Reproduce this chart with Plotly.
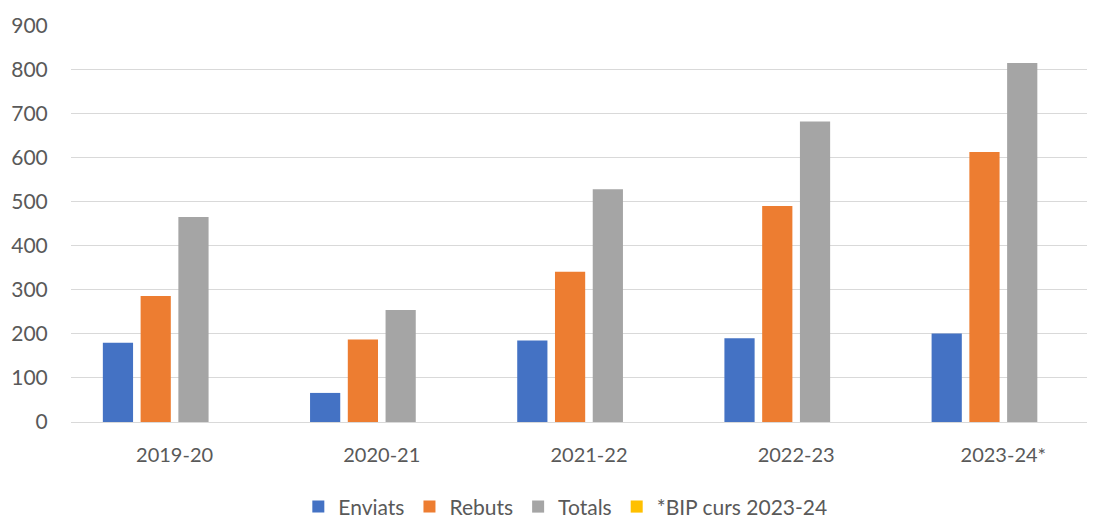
import plotly.graph_objects as go

categories = ["2019-20", "2020-21", "2021-22", "2022-23", "2023-24*"]
enviats = [180, 66, 185, 190, 201]
rebuts = [286, 187, 341, 490, 613]
totals = [465, 254, 528, 682, 815]
bip = [0, 0, 0, 0, 0]

series = [
    ("Enviats", enviats, "#4472C4"),
    ("Rebuts", rebuts, "#ED7D31"),
    ("Totals", totals, "#A5A5A5"),
    ("*BIP curs 2023-24", bip, "#FFC000"),
]

fig = go.Figure()
for name, vals, col in series:
    fig.add_trace(go.Bar(x=categories, y=vals, name=name,
                         marker=dict(color=col, line=dict(width=0))))

font_family = "Lato, 'Open Sans', sans-serif"
fig.update_layout(
    width=1095, height=518,
    margin=dict(l=63, r=0, t=17, b=104, autoexpand=False),
    paper_bgcolor="white", plot_bgcolor="white",
    barmode="group", bargap=0.271, bargroupgap=0.2,
    font=dict(family=font_family, size=20, color="#595959"),
    showlegend=True,
    legend=dict(orientation="h", x=0.479, xanchor="center",
                y=-0.214, yanchor="middle",
                font=dict(size=21, color="#595959"), itemclick=False),
    xaxis=dict(showgrid=False, showline=False, zeroline=False,
               range=[-0.5, 4.481],
               ticks="outside", ticklen=15, tickcolor="rgba(0,0,0,0)",
               tickfont=dict(size=20, color="#595959")),
    yaxis=dict(range=[0, 901], tickvals=list(range(0, 901, 100)),
               showgrid=True, gridcolor="#D9D9D9", gridwidth=1,
               zeroline=True, zerolinecolor="#D9D9D9", zerolinewidth=1, showline=False,
               ticks="outside", ticklen=18, tickcolor="rgba(0,0,0,0)",
               tickfont=dict(size=21, color="#595959")),
)

fig.write_html("out.html")
